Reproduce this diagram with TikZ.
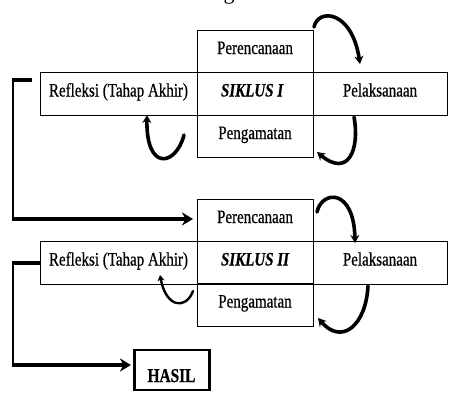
\documentclass[tikz,border=0pt]{standalone}
\usepackage{fontspec}
\setmainfont{Liberation Serif}
\newfontfamily\cf[FakeStretch=0.79,FakeBold=0.6]{Liberation Serif}
\usetikzlibrary{arrows.meta}
\begin{document}
\begin{tikzpicture}[x=1pt,y=-1pt,
  cell/.style={draw, line width=0.9pt, inner sep=0pt, minimum height=42.5pt,
    font=\cf\fontsize{19}{19}\selectfont, text height=8pt, text depth=3pt},
  cyc/.style={line width=3.6pt, line cap=round, -{Stealth[length=8pt,width=9pt]}},
  thin cyc/.style={line width=2.4pt, line cap=round, -{Stealth[length=6pt,width=7pt]}},
  brk/.style={line width=4pt},
  vline/.style={line width=1.8pt},
  harrow/.style={line width=4pt, -{Stealth[length=11pt,width=13pt]}}
]
\useasboundingbox (0,0) rectangle (464,394);
% partially visible title letter (cut off by the top edge, as in the reference)
\node[anchor=base, inner sep=0pt, font=\fontsize{22}{22}\selectfont] (ttl) at (229,-0.5) {g};

% ---------- SIKLUS I ----------
\node[cell, minimum width=116pt] (per1) at (255,51.5) {Perencanaan};
\node[cell, minimum width=157pt] (ref1) at (118.5,94) {Refleksi (Tahap Akhir)};
\node[cell, minimum width=116pt] (sik1) at (255,94) {\bfseries\itshape SIKLUS I\phantom{I}};
\node[cell, minimum width=134pt] (pel1) at (380,94) {Pelaksanaan};
\node[cell, minimum width=116pt] (pen1) at (255,136.5) {Pengamatan};

\coordinate (a1s) at (314,27);  \coordinate (a1e) at (360,64);
\coordinate (a2s) at (354,117); \coordinate (a2e) at (317,152);
\coordinate (a3s) at (184,135); \coordinate (a3e) at (147,115);
\draw[cyc] (a1s) .. controls (318,8) and (352,10) .. (a1e);
\draw[cyc] (a2s) .. controls (360,150) and (348,178) .. (a2e);
\draw[cyc] (a3s) .. controls (176,166) and (146,172) .. (a3e);

\coordinate (b1a) at (32,80); \coordinate (b1b) at (13,80);
\coordinate (b1c) at (13,219); \coordinate (b1d) at (193,219);
\draw[brk] (b1a) -- (12,80);
\draw[vline] (b1b) -- (b1c);
\draw[harrow] (12,219) -- (b1d);

% ---------- SIKLUS II ----------
\node[cell, minimum width=116pt] (per2) at (255,220.5) {Perencanaan};
\node[cell, minimum width=157pt] (ref2) at (118.5,263) {Refleksi (Tahap Akhir)};
\node[cell, minimum width=116pt] (sik2) at (255,263) {\bfseries\itshape SIKLUS II};
\node[cell, minimum width=134pt] (pel2) at (380,263) {Pelaksanaan};
\node[cell, minimum width=116pt] (pen2) at (255,305) {Pengamatan};

\coordinate (a4s) at (317,212); \coordinate (a4e) at (355,243);
\coordinate (a5s) at (368,286); \coordinate (a5e) at (318,318);
\coordinate (a6s) at (193,291); \coordinate (a6e) at (160,275);
\draw[cyc] (a4s) .. controls (322,190) and (354,188) .. (a4e);
\draw[cyc] (a5s) .. controls (366,325) and (342,346) .. (a5e);
\draw[thin cyc] (a6s) .. controls (186,310) and (166,308) .. (a6e);

\coordinate (b2b) at (13,263); \coordinate (b2c) at (13,365);
\coordinate (b2d) at (131,365);
\draw[brk] (ref2.west) -- (12,263);
\draw[vline] (b2b) -- (b2c);
\draw[harrow] (12,365) -- (b2d);

% ---------- HASIL ----------
\node[draw, line width=2.6pt, minimum width=75pt, minimum height=40pt, inner sep=0pt] (hasil) at (172,370) {};
\node[anchor=base, inner sep=0pt, font=\cf\bfseries\fontsize{19.5}{19.5}\selectfont] (hasiltxt) at (171.5,382) {HASIL};
\end{tikzpicture}
\end{document}
